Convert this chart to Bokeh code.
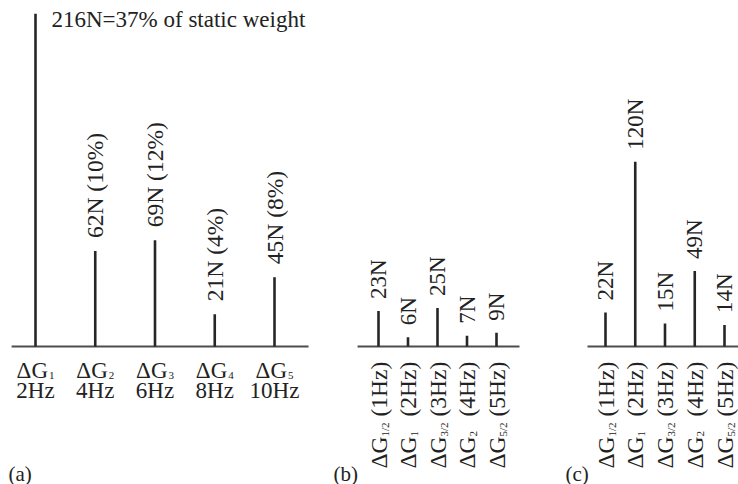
import math
from bokeh.plotting import figure
from bokeh.layouts import row
from bokeh.models import Range1d, ColumnDataSource
from bokeh.core.properties import value
from bokeh.embed import file_html
from bokeh.resources import INLINE

# ---------------- data ----------------
a_idx = [0, 1, 2, 3, 4]
a_values = [216, 62, 69, 21, 45]
a_top_labels = ["216N=37% of static weight", "62N (10%)", "69N (12%)", "21N (4%)", "45N (8%)"]
a_subs = ["1", "2", "3", "4", "5"]
a_freqs = ["2Hz", "4Hz", "6Hz", "8Hz", "10Hz"]

bc_idx = [0, 1, 2, 3, 4]
b_values = [23, 6, 25, 7, 9]
b_labels = ["23N", "6N", "25N", "7N", "9N"]
c_values = [22, 120, 15, 49, 14]
c_labels = ["22N", "120N", "15N", "49N", "14N"]
bc_subs = ["1/2", "1", "3/2", "2", "5/2"]
bc_freqs = ["(1Hz)", "(2Hz)", "(3Hz)", "(4Hz)", "(5Hz)"]

# ---------------- style ----------------
FONT = value("Liberation Serif")
TXT = "#222222"
STEM = "#262626"
BASE = "#4d4d4d"
H = 484
BASE_PX = 346
PX_PER_N = 1.54
VERT = math.pi / 2


def make_fig(width, x0, x1):
    p = figure(width=width, height=H,
               x_range=Range1d(x0, x1),
               y_range=Range1d(-(H - BASE_PX) / PX_PER_N, BASE_PX / PX_PER_N),
               output_backend="svg", toolbar_location=None,
               x_axis_location=None, y_axis_location=None,
               min_border=0, outline_line_color=None,
               background_fill_color="white", border_fill_color="white")
    p.grid.visible = False
    return p


def stems(p, idx, vals, bx0, bx1):
    p.segment(x0=[bx0], y0=[0], x1=[bx1], y1=[0], line_color=BASE, line_width=2.2)
    src = ColumnDataSource(dict(x=idx, v=vals, z=[0] * len(idx)))
    p.segment(x0="x", y0="z", x1="x", y1="v", source=src, line_color=STEM, line_width=2.6)


def txt(p, size, **kw):
    kw.setdefault("text_baseline", "middle")
    p.text(text_font=FONT, text_font_size=size, text_color=TXT, **kw)


# ---------------- panel (a) ----------------
pa = make_fig(330, -35 / 59.75, -35 / 59.75 + 330 / 59.75)
stems(pa, a_idx, a_values, -0.40, 4.57)
z5 = [0] * len(a_idx)
txt(pa, "23px", x=a_idx[:1], y=a_values[:1], text=a_top_labels[:1],
    x_offset=16, y_offset=6, text_align="left")
txt(pa, "23.5px", x=a_idx[1:], y=a_values[1:], text=a_top_labels[1:],
    angle=VERT, y_offset=-13, text_align="left")
txt(pa, "23px", x=a_idx, y=z5, text=["ΔG"] * 5, x_offset=12.5, y_offset=24,
    text_align="right")
txt(pa, "11px", x=a_idx, y=z5, text=a_subs, x_offset=13.5, y_offset=29,
    text_align="left")
txt(pa, "23px", x=a_idx, y=z5, text=a_freqs, y_offset=44, text_align="center")
txt(pa, "21px", x=a_idx[:1], y=[0], text=["(a)"], x_offset=-27, y_offset=127,
    text_align="left")


def bc_panel(width, stem0_px, spacing, bx0, bx1, vals, labels, tag, tag_dx):
    x0 = -stem0_px / spacing
    p = make_fig(width, x0, x0 + width / spacing)
    stems(p, bc_idx, vals, bx0, bx1)
    z = [0] * len(bc_idx)
    txt(p, "23px", x=bc_idx, y=vals, text=labels, angle=VERT, y_offset=-12,
        text_align="left")
    txt(p, "23.5px", x=bc_idx, y=z, text=["ΔG"] * len(bc_idx), angle=VERT,
        y_offset=122, text_align="left")
    txt(p, "11px", x=bc_idx, y=z, text=bc_subs, angle=VERT, x_offset=6,
        y_offset=90, text_align="left")
    txt(p, "23.5px", x=bc_idx, y=z, text=bc_freqs, angle=VERT, y_offset=70,
        text_align="left")
    txt(p, "21px", x=bc_idx[:1], y=[0], text=[tag], x_offset=tag_dx, y_offset=127,
        text_align="left")
    return p


pb = bc_panel(223, 48, 29.5, -0.71, 4.78, b_values, b_labels, "(b)", -45)
pc = bc_panel(185, 52, 29.75, -0.605, 4.6, c_values, c_labels, "(c)", -40)

layout = row(pa, pb, pc, spacing=0)
open("out.html", "w").write(file_html(layout, INLINE))
